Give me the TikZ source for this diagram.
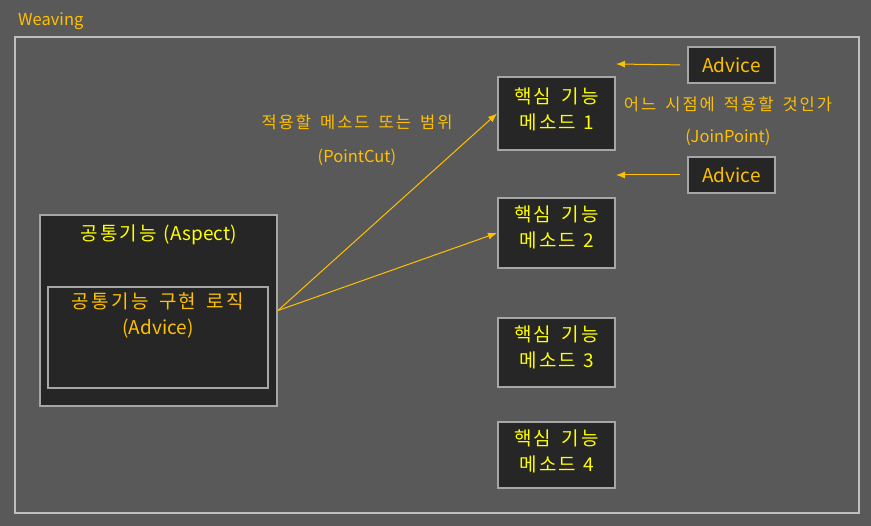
\documentclass[tikz,border=0pt]{standalone}
\usepackage{fontspec}
\setmainfont{Noto Sans CJK KR}[WordSpace=1.6]
\newcommand{\hk}[1]{{\addfontfeature{LetterSpace=12}#1}}
\definecolor{bgcol}{HTML}{595959}
\definecolor{framecol}{HTML}{BFBFBF}
\definecolor{boxcol}{HTML}{A6A6A6}
\definecolor{fillcol}{HTML}{262626}
\definecolor{yel}{HTML}{FFFF00}
\definecolor{ora}{HTML}{FFC000}
\usetikzlibrary{arrows.meta}
\begin{document}
\begin{tikzpicture}[x=1pt, y=-1pt,
  box/.style={draw=boxcol, line width=2pt, fill=fillcol, inner sep=0pt},
  bigtxt/.style={font=\fontsize{19}{26}\selectfont, align=center, inner sep=0pt},
  smalltxt/.style={text=ora, font=\fontsize{16.5}{20}\selectfont, inner sep=0pt},
  link/.style={draw=ora, line width=1pt, -{Latex[length=9pt,width=7pt]}}]
\fill[bgcol] (0,0) rectangle (871,526);
\useasboundingbox (0,0) rectangle (871,526);
\node[smalltxt, anchor=west] (weav) at (18,21){Weaving};
\draw[framecol, line width=2pt] (15,37) rectangle (859,513);
% aspect
\node[box, minimum width=237, minimum height=191] (asp) at (158.5,310.5){};
\node[bigtxt, text=yel] (asptxt) at (158.5,235){\hk{공통기능} (Aspect)};
\node[box, minimum width=220, minimum height=101] (adv) at (158,337.5){};
\node[bigtxt, text=ora] (advtxt) at (158,316){\hk{공통기능 구현 로직}\\(Advice)};
% methods
\node[box, minimum width=117, minimum height=73] (m1) at (556.5,113.5){};
\node[bigtxt, text=yel] (m1txt) at (556.5,109){\hk{핵심 기능}\\\hk{메소드} 1};
\node[box, minimum width=117, minimum height=70] (m2) at (556.5,233){};
\node[bigtxt, text=yel] (m2txt) at (556.5,227){\hk{핵심 기능}\\\hk{메소드} 2};
\node[box, minimum width=117, minimum height=69] (m3) at (556.5,352.5){};
\node[bigtxt, text=yel] (m3txt) at (556.5,347){\hk{핵심 기능}\\\hk{메소드} 3};
\node[box, minimum width=117, minimum height=66] (m4) at (556.5,455){};
\node[bigtxt, text=yel] (m4txt) at (556.5,451){\hk{핵심 기능}\\\hk{메소드} 4};
% advice
\node[box, minimum width=87, minimum height=36, bigtxt, text=ora] (a1) at (731.5,65){Advice};
\node[box, minimum width=87, minimum height=36, bigtxt, text=ora] (a2) at (731.5,175){Advice};
\coordinate (j1) at (616,64);
\coordinate (j2) at (616,175);
\draw[link, shorten <=7pt] (a1.west) -- (j1);
\draw[link, shorten <=7pt] (a2.west) -- (j2);
\node[smalltxt] (jp1) at (728,104){\hk{어느 시점에 적용할 것인가}};
\node[smalltxt] (jp2) at (728,137){(JoinPoint)};
\node[smalltxt] (pc1) at (357,122){\hk{적용할 메소드 또는 범위}};
\node[smalltxt] (pc2) at (357,157){(PointCut)};
\draw[link] (asp.east) -- (m1.west);
\draw[link] (asp.east) -- (m2.west);
\end{tikzpicture}
\end{document}
